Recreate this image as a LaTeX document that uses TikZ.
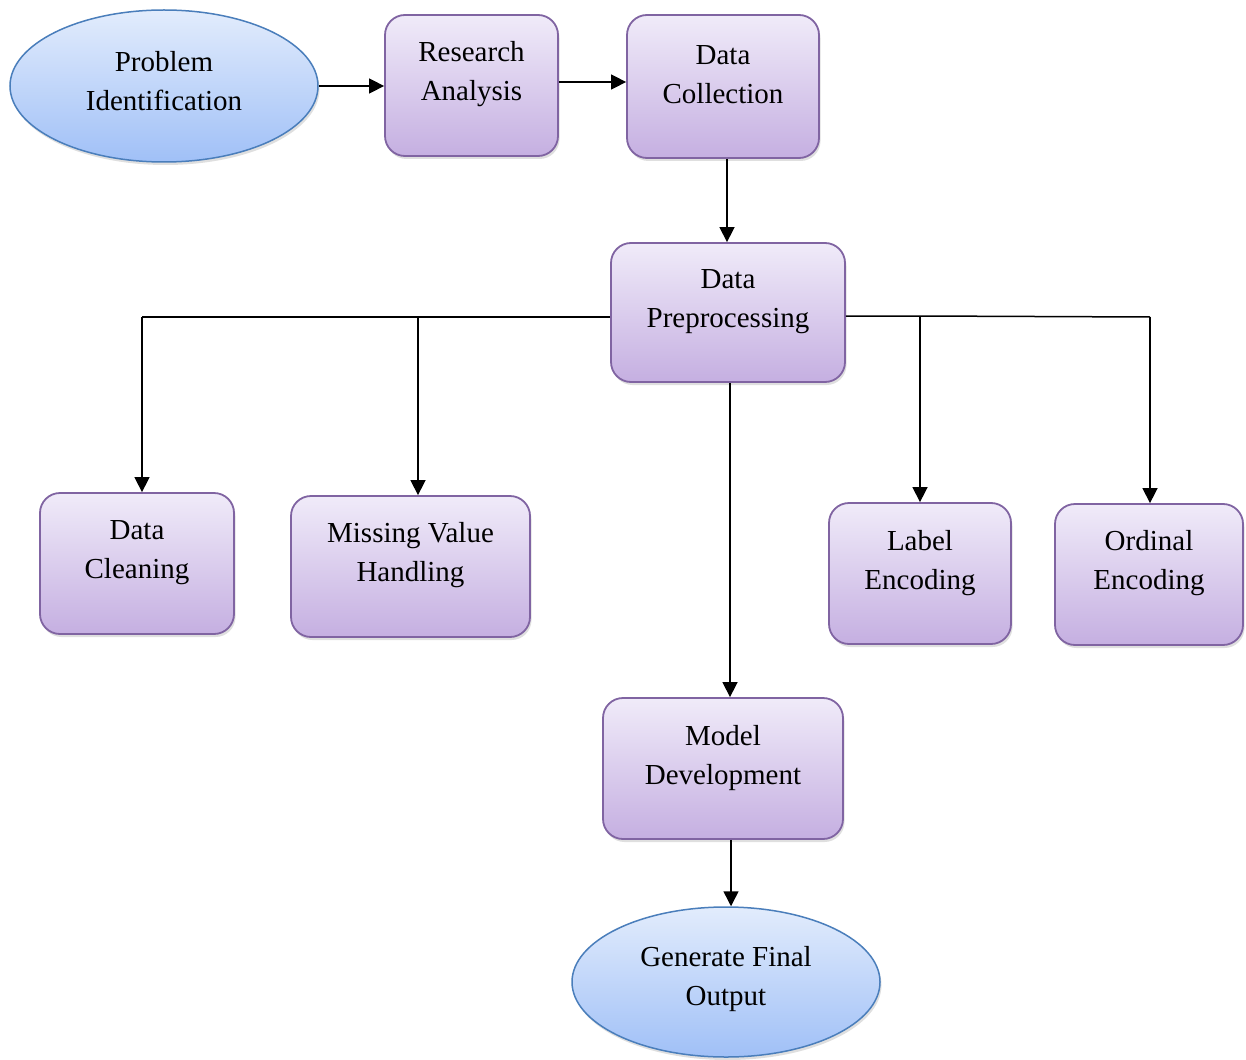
\documentclass[tikz,border=0pt]{standalone}
\usepackage{fontspec}
\setmainfont{Liberation Serif}
\usetikzlibrary{arrows.meta,shapes.geometric,shadows}
\definecolor{boxtop}{HTML}{F0EBF9}
\definecolor{boxbot}{HTML}{C5AFE1}
\definecolor{boxline}{HTML}{8064A2}
\definecolor{elltop}{HTML}{E2ECFC}
\definecolor{ellbot}{HTML}{A0C0F7}
\definecolor{ellline}{HTML}{4A7EBB}
\tikzset{
  procbox/.style={draw=boxline, line width=1.8pt, rounded corners=20pt,
    top color=boxtop, bottom color=boxbot, inner sep=0pt,
    drop shadow={shadow xshift=1.5pt, shadow yshift=-3pt, opacity=0.25}},
  termell/.style={ellipse, draw=ellline, line width=1.5pt,
    top color=elltop, bottom color=ellbot, inner sep=0pt,
    drop shadow={shadow xshift=1.5pt, shadow yshift=-3pt, opacity=0.25}},
  lbl/.style={align=center, font=\fontsize{29}{39}\selectfont, inner sep=0pt},
  conn/.style={line width=1.5pt, -{Triangle[length=15pt,width=15pt]}},
  plain/.style={line width=1.5pt}
}
\begin{document}
\begin{tikzpicture}[x=1pt,y=-1pt]
\useasboundingbox (0,0) rectangle (1246,1059);
\fill[white] (0,0) rectangle (1246,1059);

% terminals
\node[termell, minimum width=308pt, minimum height=152pt] (prob) at (164,86) {};
\node[lbl] (tprob) at (164,81) {Problem\\Identification};
\node[termell, minimum width=308pt, minimum height=150pt] (gen) at (726,982) {};
\node[lbl] (tgen) at (726,979) {Generate Final\\Output};

% boxes
\node[procbox, minimum width=173pt, minimum height=141pt] (ra) at (471.5,85.5) {};
\node[lbl] (tra) at (471.5,74) {Research\\Analysis};
\node[procbox, minimum width=192pt, minimum height=143pt] (dc) at (723,86.5) {};
\node[lbl] (tdc) at (723,75) {Data\\Collection};
\node[procbox, minimum width=234pt, minimum height=139pt] (dp) at (728,312.5) {};
\node[lbl] (tdp) at (728,301.5) {Data\\Preprocessing};
\node[procbox, minimum width=194pt, minimum height=141pt] (cl) at (137,563.5) {};
\node[lbl] (tcl) at (137,552.5) {Data\\Cleaning};
\node[procbox, minimum width=239pt, minimum height=141pt] (mv) at (410.5,566.5) {};
\node[lbl] (tmv) at (410.5,555.5) {Missing Value\\Handling};
\node[procbox, minimum width=182pt, minimum height=141pt] (le) at (920,573.5) {};
\node[lbl] (tle) at (920,563) {Label\\Encoding};
\node[procbox, minimum width=188pt, minimum height=141pt] (oe) at (1149,574.5) {};
\node[lbl] (toe) at (1149,563.5) {Ordinal\\Encoding};
\node[procbox, minimum width=240pt, minimum height=141pt] (md) at (723,768.5) {};
\node[lbl] (tmd) at (723,758.5) {Model\\Development};

% connectors
\draw[conn] (prob.east) -- (ra.west |- prob.east);
\draw[conn] (ra.east |- 0,82) -- (dc.west |- 0,82);
\draw[conn] (dc.south -| 727,0) -- (dp.north -| 727,0);

\coordinate (lj) at (142,317);
\coordinate (mj) at (418,317);
\coordinate (rj1) at (920,316);
\coordinate (rj2) at (1150,317);
\draw[plain] (dp.west |- lj) -- (lj);
\draw[conn] (lj) -- (cl.north -| lj);
\draw[conn] (mj) -- (mv.north -| mj);
\draw[plain] (dp.east |- rj1) -- (rj1) -- (rj2);
\draw[conn] (rj1) -- (le.north -| rj1);
\draw[conn] (rj2) -- (oe.north -| rj2);

\draw[conn] (dp.south -| 730,0) -- (md.north -| 730,0);
\draw[conn] (md.south -| 731,0) -- (gen.north -| 731,0);
\end{tikzpicture}
\end{document}
